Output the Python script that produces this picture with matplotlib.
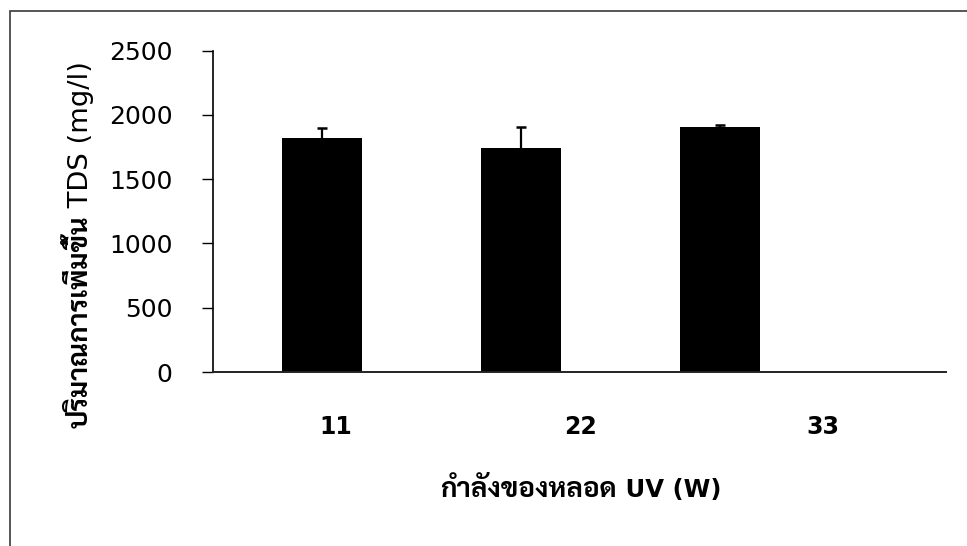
import matplotlib
matplotlib.use("Agg")
import matplotlib.pyplot as plt
from matplotlib import font_manager
from matplotlib.patches import Rectangle
from matplotlib.ft2font import FT2Font

# ---- data -------------------------------------------------------------
categories = ["11", "22", "33"]          # UV lamp power (W)
tds_increase = [1819, 1745, 1907]       # TDS increase (mg/l)
tds_err = [82, 160, 15]                 # upper error bar
y_ticks = [0, 500, 1000, 1500, 2000, 2500]
x_label_thai, x_label_latin = "กำลังของหลอด", " UV (W)"
y_label_thai, y_label_latin = "ปริมาณการเพิ่มขึ้น", " TDS (mg/l)"

# ---- fonts: Latin in DejaVu Sans, Thai in a Thai-capable face ----------
available = {f.name for f in font_manager.fontManager.ttflist}
preferred = ["Sarabun", "Noto Sans Thai Looped", "Noto Sans Thai", "Bai Jamjuree", "Athiti"]
thai_font = next((n for n in preferred if n in available), None)
if thai_font is None:
    for f in font_manager.fontManager.ttflist:
        try:
            if 0x0E01 in FT2Font(f.fname).get_charmap():
                thai_font = f.name
                break
        except Exception:
            pass
LATIN = ["DejaVu Sans"]
THAI = ([thai_font] if thai_font else []) + ["DejaVu Sans"]
plt.rcParams["font.family"] = THAI[::-1] if thai_font else LATIN

# ---- figure -------------------------------------------------------------
W, H = 967, 546
fig = plt.figure(figsize=(W / 100, H / 100), dpi=100)
renderer = fig.canvas.get_renderer()


def fx(px):
    return px / W


def fy(py):
    return 1 - py / H


def run_width(s, size, weight, family):
    t = fig.text(0, 0, s, fontsize=size, fontweight=weight, family=family)
    w = t.get_window_extent(renderer).width
    t.remove()
    return w


def mixed_label(pos_px, parts, vertical=False):
    """Draw text runs (text, size, weight, family) end to end on one baseline.
    Horizontal: pos is (centre x, baseline y).  Vertical: (baseline x, centre y)."""
    widths = [run_width(*p) for p in parts]
    total = sum(widths)
    if vertical:
        bx, cy = pos_px
        y = cy + total / 2
        for (s, size, weight, fam), w in zip(parts, widths):
            fig.text(fx(bx), fy(y), s, fontsize=size, fontweight=weight, family=fam,
                     rotation=90, rotation_mode="anchor", ha="left", va="baseline")
            y -= w
    else:
        cx, by = pos_px
        x = cx - total / 2
        for (s, size, weight, fam), w in zip(parts, widths):
            fig.text(fx(x), fy(by), s, fontsize=size, fontweight=weight, family=fam,
                     ha="left", va="baseline")
            x += w


# outer frame around the chart
fig.patches.append(Rectangle((fx(10), -0.05), 1.05, fy(10.5) + 0.05,
                             transform=fig.transFigure, fill=False,
                             edgecolor="#3a3a3a", linewidth=1.2))

ax = fig.add_axes([fx(213), fy(372), (946 - 213) / W, (372 - 50.7) / H])

x = list(range(len(categories)))
ax.bar(x, tds_increase, width=0.40, color="black", zorder=2)

# upper-only error bars with small caps
tops = [v + e for v, e in zip(tds_increase, tds_err)]
ax.vlines(x, tds_increase, tops, colors="black", linewidth=1.6, zorder=3)
ax.hlines(tops, [i - 0.026 for i in x], [i + 0.026 for i in x],
          colors="black", linewidth=1.8, zorder=3)

ax.set_xlim(-0.548, 3.136)
ax.set_ylim(0, 2500)
ax.set_yticks(y_ticks)
ax.set_yticklabels([str(v) for v in y_ticks], fontsize=18, family=LATIN)
ax.tick_params(axis="y", direction="out", length=7.7, width=1.0, pad=21.5)
ax.set_xticks([])

for s in ("top", "right"):
    ax.spines[s].set_visible(False)
ax.spines["left"].set_linewidth(1.2)
ax.spines["bottom"].set_linewidth(1.4)
ax.spines["bottom"].set_color("#222222")

# category labels below the axis
label_px = [336, 580, 823]
for lab, px in zip(categories, label_px):
    fig.text(fx(px), fy(434), lab, ha="center", va="baseline",
             fontsize=17, fontweight="bold", family=LATIN)

mixed_label((580.5, 497), [(x_label_thai, 20, "bold", THAI),
                           (x_label_latin, 17.5, "bold", LATIN)])
mixed_label((88, 244.5), [(y_label_thai, 19.7, "bold", THAI),
                          (y_label_latin, 19.7, "normal", LATIN)], vertical=True)

fig.savefig("out.png", dpi=100)
